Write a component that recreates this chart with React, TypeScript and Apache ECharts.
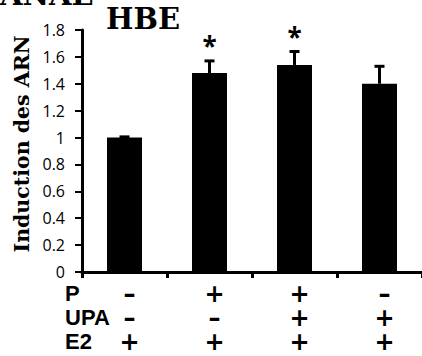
import React, { useEffect, useRef } from "react";
import * as echarts from "echarts";

const categories = ["c1", "c2", "c3", "c4"];
const means = [1.0, 1.48, 1.54, 1.4];
const errors = [0.005, 0.09, 0.1, 0.13];
const significant = [false, true, true, false];
const rowLabels = ["P", "UPA", "E2"];
const rowP = ["–", "+", "+", "–"];
const rowUPA = ["–", "–", "+", "+"];
const rowE2 = ["+", "+", "+", "+"];
const yTicks = { min: 0, max: 1.8, interval: 0.2 };

export default function App() {
  const ref = useRef<HTMLDivElement>(null);
  useEffect(() => {
    if (!ref.current) return;
    const chart = echarts.init(ref.current, undefined, { renderer: "svg" });
    const serif = "DejaVu Serif";
    const sans = "Open Sans";
    const labelSans = "Liberation Sans";
    const symFont = "DejaVu Sans";
    const rows = [rowP, rowUPA, rowE2];
    chart.setOption({
      animation: false,
      backgroundColor: "#fff",
      title: [
        {
          text: "ANAE",
          left: 0,
          top: -20,
          padding: 0,
          textStyle: { fontFamily: serif, fontWeight: "bold", fontSize: 29, color: "#000" },
        },
        {
          text: "HBE",
          left: 106,
          top: 4,
          padding: 0,
          textStyle: { fontFamily: serif, fontWeight: "bold", fontSize: 29, color: "#000" },
        },
        ...rowLabels.map((t, k) => ({
          text: t,
          left: 65,
          top: 282 + k * 24,
          padding: 0,
          textStyle: { fontFamily: labelSans, fontWeight: "bold", fontSize: 22, color: "#000" },
        })),
      ],
      graphic: [
        {
          type: "text",
          x: 22,
          y: 144,
          rotation: Math.PI / 2,
          style: {
            text: "Induction des ARN",
            fill: "#000",
            fontFamily: serif,
            fontWeight: "bold",
            fontSize: 20.5,
            align: "center",
            verticalAlign: "middle",
          },
        },
      ],
      grid: { left: 82, right: 0, top: 30, bottom: 84, containLabel: false },
      xAxis: {
        type: "category",
        data: categories,
        axisLine: { lineStyle: { color: "#000", width: 3 } },
        axisTick: { show: true, length: 6, lineStyle: { color: "#000", width: 3 } },
        axisLabel: {
          margin: 10,
          lineHeight: 24,
          color: "#000",
          fontFamily: symFont,
          fontWeight: "bold",
          fontSize: 24,
          padding: [0, 0, 0, 10],
          formatter: (_v: string, i: number) => rows.map((r) => r[i]).join("\n"),
        },
        splitLine: { show: false },
      },
      yAxis: {
        type: "value",
        min: yTicks.min,
        max: yTicks.max,
        interval: yTicks.interval,
        axisLine: { show: true, lineStyle: { color: "#000", width: 3 } },
        axisTick: { show: true, length: 7, lineStyle: { color: "#000", width: 2 } },
        axisLabel: {
          margin: 17,
          color: "#000",
          fontFamily: sans,
          fontSize: 16,
          formatter: (v: number) => String(Math.round(v * 10) / 10),
        },
        splitLine: { show: false },
      },
      series: [
        {
          type: "bar",
          data: means,
          barWidth: 35,
          itemStyle: { color: "#000" },
        },
        {
          type: "custom",
          data: means.map((m, i) => [i, m, errors[i], significant[i] ? 1 : 0]),
          z: 5,
          renderItem: (_params: any, api: any) => {
            const i = api.value(0);
            const m = api.value(1);
            const e = api.value(2);
            const sig = api.value(3);
            const p0 = api.coord([i, m]);
            const p1 = api.coord([i, m + e]);
            const children: any[] = [
              {
                type: "line",
                shape: { x1: p0[0], y1: p0[1], x2: p1[0], y2: p1[1] },
                style: { stroke: "#000", lineWidth: 3 },
              },
              {
                type: "line",
                shape: { x1: p1[0] - 5, y1: p1[1], x2: p1[0] + 5, y2: p1[1] },
                style: { stroke: "#000", lineWidth: 3 },
              },
            ];
            if (sig) {
              children.push({
                type: "text",
                x: p1[0],
                y: p1[1] - 2,
                style: {
                  text: "*",
                  fill: "#000",
                  fontFamily: sans,
                  fontWeight: "bold",
                  fontSize: 26,
                  align: "center",
                  verticalAlign: "bottom",
                },
              });
            }
            return { type: "group", children };
          },
        },
      ],
    });
    return () => chart.dispose();
  }, []);
  return <div ref={ref} style={{ width: 422, height: 356, position: "absolute", left: 0, top: 0 }} />;
}
